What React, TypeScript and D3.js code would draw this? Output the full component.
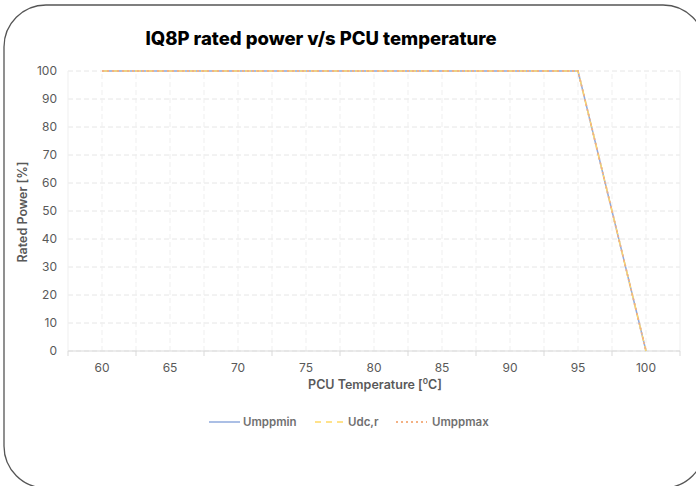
import React from "react";
import * as d3 from "d3";

const temps = [60, 65, 70, 75, 80, 85, 90, 95, 100];
const umppmin = [100, 100, 100, 100, 100, 100, 100, 100, 0];
const udcr = [100, 100, 100, 100, 100, 100, 100, 100, 0];
const umppmax = [100, 100, 100, 100, 100, 100, 100, 100, 0];
const yTicks = [0, 10, 20, 30, 40, 50, 60, 70, 80, 90, 100];
const xGrid = d3.range(57.5, 102.6, 2.5);
const xBounds = d3.range(57.5, 102.6, 5);

const series = [
  { name: "Umppmin", values: umppmin, color: "#8faadc", dash: "none", width: 1.5 },
  { name: "Udc,r", values: udcr, color: "#ffd966", dash: "6,5", width: 1.5 },
  { name: "Umppmax", values: umppmax, color: "#f4b183", dash: "2,3", width: 1.8 },
];

const font = "Inter, 'DejaVu Sans', sans-serif";

export default function App() {
  const W = 696;
  const H = 486;
  const margin = { top: 71, right: 16, bottom: 135, left: 68 };

  const x = d3.scaleLinear().domain([57.5, 102.5]).range([margin.left, W - margin.right]);
  const y = d3.scaleLinear().domain([0, 100]).range([H - margin.bottom, margin.top]);

  const line = (vals: number[]) =>
    d3.line<number>().x((_, i) => x(temps[i])).y((d) => y(d))(vals) || "";

  const legend = [
    { lx: 209, tx: 243 },
    { lx: 315, tx: 348 },
    { lx: 396, tx: 432 },
  ];

  return (
    <svg width={W} height={H} style={{ position: "absolute", left: 0, top: 0 }}>
      <rect x={0} y={0} width={W} height={H} fill="#fff" />
      <rect x={4} y={5} width={701} height={483} rx={42} fill="none" stroke="#555" strokeWidth={1.3} />

      <text x={321} y={45} textAnchor="middle" fontFamily={font} fontWeight={800} fontSize={18.5} fill="#000">
        IQ8P rated power v/s PCU temperature
      </text>

      {/* grid */}
      {yTicks.map((t) => (
        <line key={"h" + t} x1={x(57.5)} x2={x(102.5)} y1={y(t)} y2={y(t)}
          stroke="#e6e6e6" strokeDasharray="5,3" strokeWidth={1} />
      ))}
      {xGrid.map((t) => (
        <line key={"v" + t} x1={x(t)} x2={x(t)} y1={y(0)} y2={y(100)}
          stroke="#efefef" strokeDasharray={t === 57.5 || t === 102.5 ? "none" : "5,3"} strokeWidth={1} />
      ))}
      <line x1={x(57.5)} x2={x(102.5)} y1={y(0)} y2={y(0)} stroke="#d9d9d9" strokeWidth={1} />
      {xBounds.map((t) => (
        <line key={"tk" + t} x1={x(t)} x2={x(t)} y1={y(0)} y2={y(0) + 5} stroke="#d9d9d9" />
      ))}

      {/* y tick labels */}
      {yTicks.map((t) => (
        <text key={"yl" + t} x={57} y={y(t) + 4} textAnchor="end" fontFamily={font} fontSize={12} fill="#595959">
          {t}
        </text>
      ))}
      {temps.map((t) => (
        <text key={"xl" + t} x={x(t)} y={372} textAnchor="middle" fontFamily={font} fontSize={12} fill="#595959">
          {t}
        </text>
      ))}

      <text x={375} y={389} textAnchor="middle" fontFamily={font} fontWeight={600} fontSize={12.5} fill="#595959">
        PCU Temperature [<tspan fontSize={8} dy={-5}>0</tspan><tspan dy={5}>C]</tspan>
      </text>
      <text transform={`translate(27,${212}) rotate(-90)`} textAnchor="middle" fontFamily={font}
        fontWeight={600} fontSize={12.5} fill="#595959">
        Rated Power [%]
      </text>

      {series.map((s) => (
        <path key={s.name} d={line(s.values)} fill="none" stroke={s.color}
          strokeWidth={s.width} strokeDasharray={s.dash} />
      ))}

      {series.map((s, i) => (
        <g key={"lg" + s.name}>
          <line x1={legend[i].lx} x2={legend[i].lx + 31} y1={422} y2={422} stroke={s.color}
            strokeWidth={s.width} strokeDasharray={s.dash} />
          <text x={legend[i].tx} y={426} fontFamily={font} fontWeight={600} fontSize={11.5} fill="#707070">
            {s.name}
          </text>
        </g>
      ))}
    </svg>
  );
}
